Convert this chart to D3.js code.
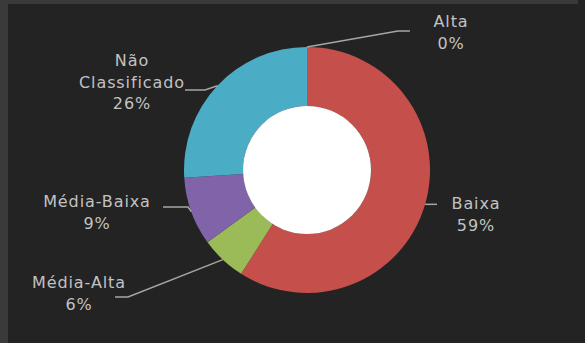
<!DOCTYPE html>
<html>
<head>
<meta charset="utf-8">
<script src="https://cdn.jsdelivr.net/npm/d3@7"></script>
<style>
  html, body { margin: 0; padding: 0; background: #232323; }
  svg { display: block; }
</style>
</head>
<body>
<svg id="chart" width="585" height="343"></svg>
<script>
// Distribution by classification (percent)
const categories = ["Alta", "Baixa", "Média-Alta", "Média-Baixa", "Não Classificado"];
const values = [0, 59, 6, 9, 26];
const colors = ["#ffffff", "#c5504b", "#9bbb59", "#8163a9", "#4bacc6"];

// Label text lines and leader geometry for each category
const labelLines = {
  "Alta": ["Alta", "0%"],
  "Baixa": ["Baixa", "59%"],
  "Média-Alta": ["Média-Alta", "6%"],
  "Média-Baixa": ["Média-Baixa", "9%"],
  "Não Classificado": ["Não", "Classificado", "26%"]
};
const labelLayout = {
  "Alta":             { x: 451, y: 27,  elbow: [[398, 31], [410, 31]] },
  "Baixa":            { x: 476, y: 209, elbow: [[437, null]] },
  "Média-Alta":       { x: 79,  y: 288, elbow: [[128, 297], [115, 297]] },
  "Média-Baixa":      { x: 97,  y: 207, elbow: [[188, 207], [163, 207]] },
  "Não Classificado": { x: 132, y: 66,  elbow: [[205, 90], [185, 90]] }
};

const svg = d3.select("#chart");
const W = 585, H = 343;

// Backdrop with lighter frame strips on the top and left
svg.append("rect").attr("width", W).attr("height", H).attr("fill", "#232323");
svg.append("rect").attr("x", 0).attr("y", 0).attr("width", 8).attr("height", H).attr("fill", "#3a3a3a");
svg.append("rect").attr("x", 0).attr("y", 0).attr("width", 578).attr("height", 4).attr("fill", "#3a3a3a");

const cx = 307, cy = 170, R = 123, r0 = 64;
const g = svg.append("g").attr("transform", `translate(${cx},${cy})`);

const pie = d3.pie().sort(null).value(d => d.value);
const data = pie(categories.map((c, i) => ({ name: c, value: values[i], color: colors[i] })));

const arc = d3.arc().innerRadius(r0).outerRadius(R);
const rim = d3.arc().innerRadius(R).outerRadius(R);

g.selectAll("path.slice")
  .data(data)
  .enter().append("path")
  .attr("class", "slice")
  .attr("d", arc)
  .attr("fill", d => d.data.color)
  .attr("stroke", d => d.data.value === 0 ? "#ffffff" : "none")
  .attr("stroke-width", d => d.data.value === 0 ? 2 : 0);

// White hole in the middle
g.append("circle").attr("r", r0).attr("fill", "#ffffff");

// Leader lines from the rim of each slice to its label
const line = d3.line();
data.forEach(d => {
  const lay = labelLayout[d.data.name];
  const [px, py] = rim.centroid(d);
  const start = [cx + px, cy + py];
  const pts = [start].concat(lay.elbow.map(p => [p[0], p[1] === null ? start[1] : p[1]]));
  svg.append("path")
    .attr("d", line(pts))
    .attr("fill", "none")
    .attr("stroke", "#a6a6a6")
    .attr("stroke-width", 1.5);
});

// Category labels with percentages
data.forEach(d => {
  const lay = labelLayout[d.data.name];
  const t = svg.append("text")
    .attr("x", lay.x).attr("y", lay.y)
    .attr("text-anchor", "middle")
    .attr("font-family", "'DejaVu Sans', sans-serif")
    .attr("font-size", 16)
    .attr("letter-spacing", 0.9)
    .attr("fill", "#c2c2c2");
  labelLines[d.data.name].forEach((s, i) => {
    t.append("tspan").attr("x", lay.x).attr("dy", i === 0 ? 0 : 21.5).text(s);
  });
});
</script>
</body>
</html>
